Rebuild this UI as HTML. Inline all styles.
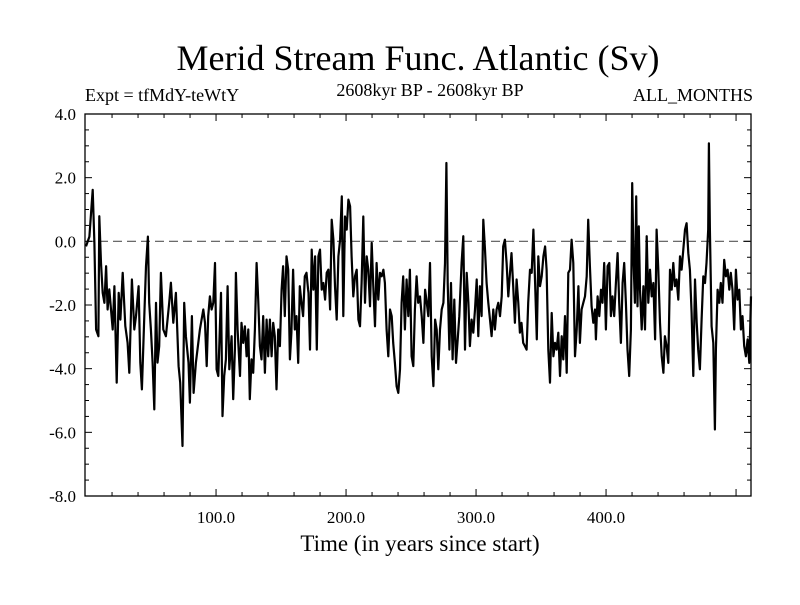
<!DOCTYPE html>
<html><head><meta charset="utf-8"><style>
html,body{margin:0;padding:0;background:#fff;}
svg text{font-family:"Liberation Serif",serif;fill:#000;}
</style></head><body>
<svg id="chart" width="800" height="600" xmlns="http://www.w3.org/2000/svg">
<text x="418" y="70" font-size="36" text-anchor="middle">Merid Stream Func. Atlantic (Sv)</text>
<text x="85" y="101" font-size="18">Expt = tfMdY-teWtY</text>
<text x="430" y="96" font-size="18" text-anchor="middle">2608kyr BP - 2608kyr BP</text>
<text x="753" y="101" font-size="18" text-anchor="end">ALL_MONTHS</text>
<text x="420" y="551" font-size="23" text-anchor="middle">Time (in years since start)</text>
<g id="axes"></g>
<g id="series"></g>
</svg>
<script>
const years=[0,2.6,5.1,6.4,7.7,9.5,10.2,11.5,12.8,14.1,15.4,16.6,17.9,19.2,20.5,21.8,23.6,25.1,26.4,28.2,30.2,32,33.3,35.3,37.1,38.4,40.4,41.7,43,44.8,46.1,47.6,48.6,49.9,51.2,52.5,53.8,55,56.3,57.6,59.4,61.4,64,65.3,67.1,69.1,71.2,72.4,74.2,75.5,76.8,78.8,79.9,81.4,82.7,84.5,
87.6,90.2,91.5,92.8,94.0,95.3,96.6,97.9,99.2,100.4,101.7,103.8,105.0,106.3,107.6,108.9,110.2,112.0,113.2,114.5,115.3,116.6,118.4,119.6,120.9,122.2,123.5,124.8,126.0,127.3,128.6,129.9,131.2,132.4,133.7,135.0,136.3,137.6,138.9,140.1,141.4,142.7,144.0,145.2,146.5,147.8,149.1,150.4,151.6,152.9,154.2,155.5,156.8,158.0,159.3,160.6,161.9,163.2,164.4,165.7,167.0,168.3,169.6,170.8,
171.1,172.3,173.6,174.9,176.2,177.5,178.7,180.0,181.3,182.6,183.9,185.1,186.4,187.7,189.0,190.3,191.5,192.8,194.1,195.4,196.7,197.9,199.2,200.5,201.8,203.1,204.3,205.6,206.9,208.2,209.5,210.7,212.0,213.3,214.6,215.9,217.1,218.4,219.7,221.0,222.3,223.5,224.8,226.1,227.4,228.7,229.9,231.2,232.5,233.8,235.1,236.3,237.6,238.9,240.2,241.5,242.7,244.0,245.3,246.6,247.9,249.1,250.4,251.7,253.0,254.3,255.5,
256.9,258.2,259.5,260.8,262.1,263.3,264.6,265.9,267.2,268.5,269.7,271.0,272.3,273.6,274.9,276.1,277.2,278.2,279.5,280.7,282.0,283.3,284.6,285.9,287.1,288.9,290.2,291.5,292.8,294.1,295.3,296.6,297.9,299.2,300.5,301.7,303.0,304.3,305.6,306.9,308.1,309.4,310.7,312.0,313.3,314.5,315.8,317.1,318.4,319.7,320.9,322.2,323.5,324.8,326.1,327.3,328.6,329.9,331.2,332.5,333.7,335.0,336.3,337.6,338.9,340.1,
341.5,342.8,344.1,345.4,346.7,347.9,349.2,350.5,351.8,353.1,354.3,355.6,356.9,358.2,359.5,360.7,362.0,363.3,364.6,365.9,367.1,368.4,369.7,371.0,372.3,373.5,374.8,376.1,377.4,378.7,379.9,381.2,382.5,383.8,385.1,386.3,387.6,388.9,390.2,391.5,392.2,393.5,394.8,396.1,397.3,398.6,399.9,401.2,402.5,403.7,405.0,406.3,407.6,408.9,410.1,411.4,412.7,414.0,415.3,416.5,417.8,419.1,420.1,421.2,422.2,423.2,424.2,425.2,
426.1,427.4,428.7,430.0,431.3,432.5,433.8,435.1,436.4,437.7,438.9,440.2,441.5,442.8,444.1,445.3,446.6,447.9,449.2,450.5,451.7,453.0,454.3,455.6,456.9,458.1,459.4,460.7,462.0,463.3,464.5,465.8,467.1,468.4,469.7,470.9,472.2,473.5,474.8,476.1,477.3,478.6,479.1,479.9,481.2,482.5,483.7,484.5,485.8,487.1,488.3,489.6,490.9,492.2,493.5,494.8,496.0,497.3,498.6,499.9,501.2,502.5,503.7,505.0,506.3,507.6,508.9,510.2,511.5];
const values=[-0.16,0.15,1.62,-0.05,-2.77,-2.98,0.79,-0.68,-1.62,-1.93,-0.78,-2.14,-1.51,-2.14,-2.77,-1.41,-4.44,-1.62,-2.46,-0.99,-2.66,-3.19,-4.13,-1.2,-2.77,-2.35,-1.41,-3.81,-4.65,-2.35,-0.78,0.15,-1.93,-2.77,-3.81,-5.28,-1.93,-3.81,-3.29,-0.99,-2.77,-2.98,-1.93,-1.3,-2.56,-1.62,-3.92,-4.44,-6.43,-1.93,-2.98,-3.81,-5.07,-2.35,-4.76,-3.81,
-2.77,-2.14,-2.56,-3.92,-2.35,-1.73,-2.14,-1.93,-0.68,-4.02,-4.23,-1.62,-5.49,-4.23,-3.71,-1.41,-4.02,-2.98,-4.96,-3.40,-0.99,-2.77,-4.23,-2.56,-3.19,-2.67,-3.61,-2.77,-4.96,-3.71,-4.13,-2.77,-0.68,-1.83,-3.29,-3.71,-2.35,-4.13,-2.46,-3.61,-2.46,-3.61,-2.56,-2.98,-4.65,-2.77,-3.29,-1.52,-0.78,-2.35,-0.47,-0.89,-3.71,-2.87,-0.89,-2.77,-2.35,-3.82,-1.41,-1.93,-2.35,-1.10,-0.99,-1.52,
-1.62,-3.40,-0.26,-1.52,-0.47,-3.40,-0.47,-0.26,-1.52,-1.31,-1.83,-0.99,-0.89,-2.14,0.68,0.05,-1.41,-2.46,-0.47,0.05,1.41,-2.35,0.78,0.37,1.31,1.10,-0.47,-1.73,-1.10,-0.89,-2.46,-2.67,-1.31,0.78,-1.93,-0.47,-0.89,-2.04,-0.05,-1.41,-2.67,-0.68,-1.83,-0.99,-1.10,-0.89,-1.31,-2.77,-3.61,-2.14,-2.35,-3.19,-3.82,-4.55,-4.76,-4.02,-1.93,-1.10,-2.77,-1.20,-2.35,-0.89,-3.61,-3.92,-2.14,-1.10,-1.93,
-1.73,-2.35,-3.19,-1.52,-1.93,-2.35,-0.68,-3.61,-4.55,-2.46,-2.77,-4.02,-2.77,-2.14,-1.93,-0.68,2.46,-1.31,-3.40,-1.31,-3.71,-1.83,-3.82,-3.08,-2.35,-0.68,0.16,-3.40,-0.99,-1.93,-3.29,-2.46,-2.87,-2.14,-1.20,-2.98,-1.41,-2.35,0.68,-0.26,-1.31,-1.93,-2.46,-2.98,-2.14,-2.77,-2.14,-1.93,-2.35,-1.73,-0.16,0.05,-0.68,-1.73,-0.99,-0.37,-1.41,-2.56,-1.20,-1.93,-2.87,-2.56,-3.19,-3.29,-3.40,-1.93,
-0.89,-0.99,0.37,-1.31,-3.08,-0.47,-1.41,-1.10,-0.47,-0.16,-0.89,-3.40,-4.44,-2.25,-3.61,-3.19,-3.40,-2.87,-4.23,-2.98,-3.71,-2.35,-4.13,-0.99,-0.89,0.05,-0.68,-3.61,-2.77,-1.41,-3.19,-2.14,-1.93,-1.73,-1.10,0.68,-0.78,-2.04,-2.56,-2.14,-3.08,-1.73,-2.35,-1.52,-1.93,-0.68,-2.77,-0.78,-0.68,-2.35,-1.73,-2.35,-1.31,-0.37,-1.93,-3.19,-1.31,-0.68,-1.93,-3.40,-4.23,-2.77,1.83,-0.68,-1.93,1.41,-2.04,0.47,
-1.52,-2.77,-1.41,-2.77,0.16,-1.93,-0.89,-1.73,-1.31,-3.08,0.37,-0.89,-2.56,-3.61,-4.13,-2.98,-3.29,-3.82,-0.89,-1.52,-0.68,-1.41,-1.20,-1.83,-0.47,-0.89,-0.26,0.37,0.57,-0.37,-0.89,-2.25,-4.23,-1.20,-2.56,-3.40,-4.02,-2.46,-1.10,-1.31,-0.68,0.37,3.08,0.37,-2.67,-3.19,-5.91,-3.40,-1.52,-1.93,-1.31,-1.93,-0.58,-1.10,-0.89,-1.52,-0.99,-1.52,-2.77,-0.89,-1.83,-1.52,-2.77,-2.35,-3.29,-3.61,-3.08,-3.82,-1.73];
const yTickValues=[4,2,0,-2,-4,-6,-8];
const yTickLabels=["4.0","2.0","0.0","-2.0","-4.0","-6.0","-8.0"];
const xTickValues=[100,200,300,400];
const xTickLabels=["100.0","200.0","300.0","400.0"];

const NS="http://www.w3.org/2000/svg";
const L=85,R=751,T=114,B=496;
const xMin=-0.8,xMax=511.5,yMin=-8,yMax=4;
function sx(v){return L+(v-xMin)/(xMax-xMin)*(R-L);}
function sy(v){return B-(v-yMin)/(yMax-yMin)*(B-T);}
function mk(tag,attrs,parent){const e=document.createElementNS(NS,tag);for(const k in attrs)e.setAttribute(k,attrs[k]);parent.appendChild(e);return e;}
const axes=document.getElementById('axes');
const frame=mk('rect',{x:L,y:T,width:R-L,height:B-T,fill:'none',stroke:'#000','stroke-width':1.3},axes);


const zero=mk('line',{x1:L,x2:R,y1:sy(0),y2:sy(0),stroke:'#555','stroke-width':1.2,'stroke-dasharray':'9,5'},axes);


for(let v=yMin;v<=yMax+1e-9;v+=0.5){
  const major=Math.abs(v%2)<1e-9;const len=major?7:4;const y=sy(v);
  const t1=mk('line',{x1:L,x2:L+len,y1:y,y2:y,stroke:'#000','stroke-width':1},axes);
  
  
  const t2=mk('line',{x1:R,x2:R-len,y1:y,y2:y,stroke:'#000','stroke-width':1},axes);
  
  
}
yTickValues.forEach((v,i)=>{
  const t=mk('text',{x:L-9,y:sy(v)+6,'font-size':17,'text-anchor':'end'},axes);
  t.textContent=yTickLabels[i];
  
  
});
for(let v=20;v<xMax;v+=20){
  const major=v%100===0;const len=major?7:4;const x=sx(v);
  const t1=mk('line',{x1:x,x2:x,y1:B,y2:B-len,stroke:'#000','stroke-width':1},axes);
  
  
  const t2=mk('line',{x1:x,x2:x,y1:T,y2:T+len,stroke:'#000','stroke-width':1},axes);
  
  
}
xTickValues.forEach((v,i)=>{
  const t=mk('text',{x:sx(v),y:B+27,'font-size':17,'text-anchor':'middle'},axes);
  t.textContent=xTickLabels[i];
  
  
});
const series=document.getElementById('series');
let d='';
years.forEach((yr,i)=>{d+=(i?'L':'M')+sx(yr).toFixed(1)+','+sy(values[i]).toFixed(1);});
const line=mk('path',{d:d,fill:'none',stroke:'#000','stroke-width':2.2,'stroke-linejoin':'round'},series);


</script>
</body></html>
